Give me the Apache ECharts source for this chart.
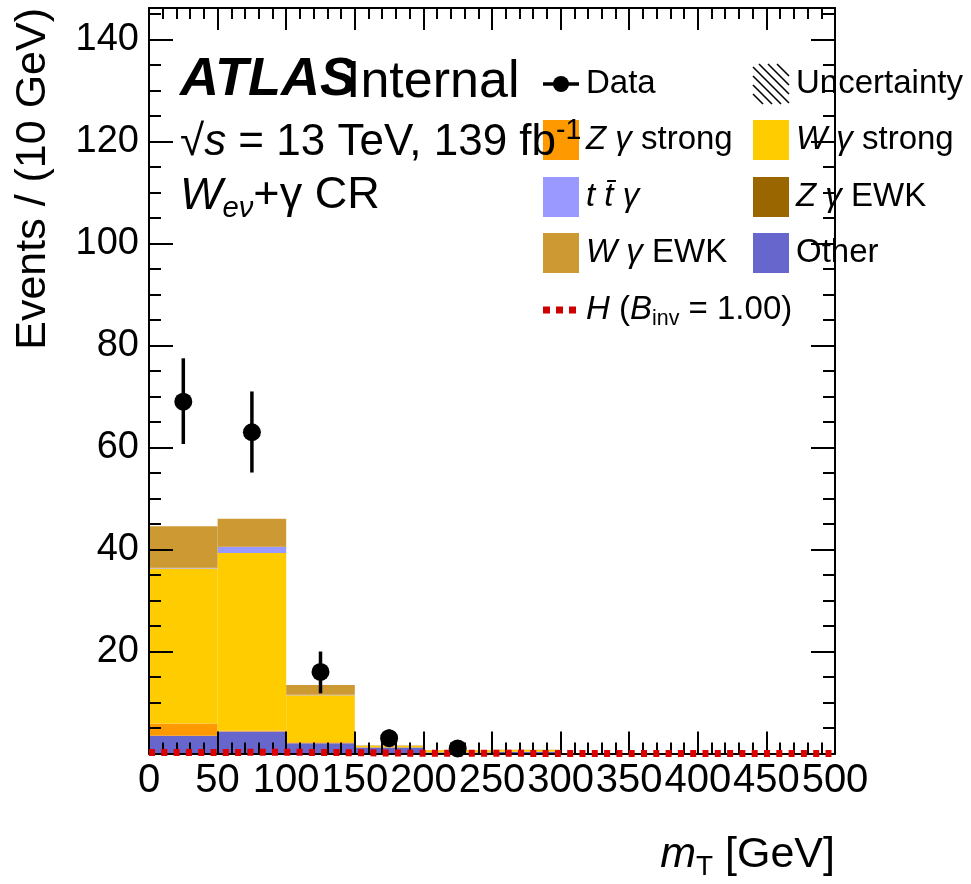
<!DOCTYPE html>
<html>
<head>
<meta charset="utf-8">
<script src="https://cdn.jsdelivr.net/npm/echarts@6/dist/echarts.min.js"></script>
<style>
  html, body { margin: 0; padding: 0; background: #fff; }
  #chart { width: 971px; height: 884px; }
</style>
</head>
<body>
<div id="chart"></div>
<script>
// m_T bins (50 GeV wide), 0 - 500 GeV
const bins = ['0-50', '50-100', '100-150', '150-200', '200-250', '250-300', '300-350', '350-400', '400-450', '450-500'];
const binEdges = [0, 50, 100, 150, 200, 250, 300, 350, 400, 450, 500];

// stacked backgrounds, bottom to top
const other    = [3.5, 4.3, 2.0, 1.2, 0.2, 0.3, 0, 0, 0, 0];
const zgStrong = [2.4, 0.2, 0.2, 0.05, 0.05, 0.1, 0, 0, 0, 0];
const wgStrong = [30.4, 34.8, 9.2, 0.2, 0.4, 0.3, 0, 0, 0, 0];
const ttg      = [0.1, 1.2, 0.1, 0, 0, 0, 0, 0, 0, 0];
const zgEwk    = [0.05, 0.05, 0.02, 0, 0, 0, 0, 0, 0, 0];
const wgEwk    = [8.1, 5.5, 1.9, 0.1, 0.05, 0.05, 0, 0, 0, 0];

// H (B_inv = 1.00) signal, per bin
const higgs = [0.2, 0.25, 0.15, 0.05, 0.03, 0.02, 0.01, 0.01, 0, 0];

// data points (bin centre, events, error down, error up)
const dataX  = [25, 75, 125, 175, 225];
const dataY  = [69, 63, 16, 3, 1];
const dataLo = [8.3, 7.9, 4.2, 1.7, 1.0];
const dataHi = [8.5, 8.0, 4.0, 1.7, 1.0];

const yTicks = [20, 40, 60, 80, 100, 120, 140];

const FONT = '"Liberation Sans", Arial, Helvetica, sans-serif';

function richSet(size) {
  return {
    n:   { fontSize: size, fontFamily: FONT, lineHeight: size * 1.2, verticalAlign: 'middle', fill: '#000' },
    i:   { fontSize: size, fontFamily: FONT, fontStyle: 'italic', lineHeight: size * 1.2, verticalAlign: 'middle', fill: '#000' },
    b:   { fontSize: size, fontFamily: FONT, fontStyle: 'italic', fontWeight: 'bold', lineHeight: size * 1.2, verticalAlign: 'middle', fill: '#000' },
    sub: { fontSize: size * 0.65, fontFamily: FONT, lineHeight: size * 0.6, verticalAlign: 'bottom', fill: '#000' },
    isub:{ fontSize: size * 0.65, fontFamily: FONT, fontStyle: 'italic', lineHeight: size * 0.55, verticalAlign: 'bottom', fill: '#000' },
    sup: { fontSize: size * 0.65, fontFamily: FONT, lineHeight: size * 0.62, verticalAlign: 'top', fill: '#000' }
  };
}

function txt(x, y, text, size, extra) {
  return Object.assign({
    type: 'text', x: x, y: y, z: 50,
    style: { text: text, rich: richSet(size), align: 'left', verticalAlign: 'middle' }
  }, extra || {});
}

// legend layout
const legendRows = [84, 140, 197, 253, 310];
const col1Box = 543, col2Box = 753, boxW = 36, boxH = 40;
const legendItems = [
  { col: 0, row: 1, color: '#ff9900', text: '{i|Z γ}{n| strong}' },
  { col: 1, row: 1, color: '#ffcc00', text: '{i|W γ}{n| strong}' },
  { col: 0, row: 2, color: '#9999ff', text: '{i|t t\u0304 γ}' },
  { col: 1, row: 2, color: '#996600', text: '{i|Z γ}{n| EWK}' },
  { col: 0, row: 3, color: '#cc9933', text: '{i|W γ}{n| EWK}' },
  { col: 1, row: 3, color: '#6666cc', text: '{n|Other}' }
];

const graphics = [];
legendItems.forEach(function (it) {
  const bx = it.col ? col2Box : col1Box;
  const cy = legendRows[it.row];
  graphics.push({ type: 'rect', z: 40, shape: { x: bx, y: cy - boxH / 2, width: boxW, height: boxH }, style: { fill: it.color } });
  graphics.push(txt(bx + 43, cy, it.text, 33));
});

// Data legend entry
graphics.push({ type: 'line', z: 40, shape: { x1: col1Box, y1: legendRows[0], x2: col1Box + boxW, y2: legendRows[0] }, style: { stroke: '#000', lineWidth: 3.5 } });
graphics.push({ type: 'circle', z: 40, shape: { cx: col1Box + boxW / 2, cy: legendRows[0], r: 8 }, style: { fill: '#000' } });
graphics.push(txt(col1Box + 43, legendRows[0], '{n|Data}', 33));

// Uncertainty legend entry (hatched box)
(function () {
  const x0 = col2Box, y0 = legendRows[0] - boxH / 2;
  for (let c = -30; c <= 30; c += 9) {
    // line: x - x0 = (y - y0) + c
    const yA = Math.max(y0, y0 - c), yB = Math.min(y0 + boxH, y0 + boxW - c);
    if (yB - yA < 3) continue;
    graphics.push({ type: 'line', z: 40, shape: { x1: x0 + (yA - y0) + c, y1: yA, x2: x0 + (yB - y0) + c, y2: yB }, style: { stroke: '#000', lineWidth: 1.6 } });
  }
})();
graphics.push(txt(col2Box + 43, legendRows[0], '{n|Uncertainty}', 33));

// H legend entry
graphics.push({ type: 'line', z: 40, shape: { x1: col1Box, y1: legendRows[4], x2: col1Box + boxW, y2: legendRows[4] }, style: { stroke: '#cc0000', lineWidth: 7, lineDash: [7, 6] } });
graphics.push(txt(col1Box + 43, legendRows[4], '{i|H}{n| (}{i|B}{sub|inv}{n| = 1.00)}', 33));

// ATLAS labels
graphics.push(txt(180, 80, '{b|ATLAS}', 54));
graphics.push(txt(346, 83, '{n|Internal}', 52));
graphics.push(txt(180, 143, '{n|√}{i|s}{n| = 13 TeV, 139 fb}{sup|-1}', 44));
graphics.push(txt(180, 196, '{i|W}{isub|eν}{n|+γ CR}', 45));

// axis titles
graphics.push({ type: 'text', x: 33, y: 8, rotation: Math.PI / 2, z: 50,
  style: { text: 'Events / (10 GeV)', font: '43px ' + FONT, fill: '#000', align: 'right', verticalAlign: 'middle' } });
graphics.push({ type: 'text', x: 835, y: 855, z: 50,
  style: { text: '{i|m}{sub|T}{n| [GeV]}', rich: richSet(43), align: 'right', verticalAlign: 'middle' } });

const yMax = 146.2;
const lineBlack = { color: '#000', width: 2 };

function yAxis(pos, interval, tickLen, labels, line) {
  return {
    type: 'value', position: pos, min: 0, max: yMax, interval: interval, z: 10,
    axisLine: { show: line, onZero: false, lineStyle: lineBlack },
    axisTick: { show: true, inside: true, length: tickLen, lineStyle: lineBlack },
    axisLabel: labels ? {
      show: true, fontSize: 38, fontFamily: FONT, color: '#000', margin: 10,
      formatter: function (v) { return yTicks.indexOf(v) >= 0 ? String(v) : ''; }
    } : { show: false },
    splitLine: { show: false }
  };
}

function xAxis(pos, labels) {
  return {
    type: 'value', position: pos, min: 0, max: 500, interval: 50, z: 10,
    axisLine: { show: true, onZero: false, lineStyle: lineBlack },
    axisTick: { show: true, inside: true, length: 22, lineStyle: lineBlack },
    minorTick: { show: true, splitNumber: 5, length: 11, lineStyle: lineBlack },
    axisLabel: labels ? { show: true, fontSize: 40, fontFamily: FONT, color: '#000', margin: 7 } : { show: false },
    splitLine: { show: false }
  };
}

const stackDefs = [
  ['Other', other, '#6666cc'],
  ['Zγ strong', zgStrong, '#ff9900'],
  ['Wγ strong', wgStrong, '#ffcc00'],
  ['ttγ', ttg, '#9999ff'],
  ['Zγ EWK', zgEwk, '#996600'],
  ['Wγ EWK', wgEwk, '#cc9933']
];

const series = stackDefs.map(function (d) {
  return {
    name: d[0], type: 'bar', stack: 'bkg', xAxisIndex: 0, yAxisIndex: 0,
    data: d[1], barWidth: '100%', barCategoryGap: '0%',
    itemStyle: { color: d[2] }, z: 2, animation: false
  };
});

// H signal as step histogram
const hStep = binEdges.map(function (e, i) { return [e, higgs[Math.min(i, higgs.length - 1)]]; });
series.push({
  name: 'H', type: 'line', step: 'end', xAxisIndex: 1, yAxisIndex: 0,
  data: hStep, showSymbol: false, clip: false, z: 20, zlevel: 0,
  lineStyle: { color: '#dd0000', width: 7, type: [6, 6.3], cap: 'butt' }, animation: false
});

// data with error bars
series.push({
  name: 'Data', type: 'custom', xAxisIndex: 1, yAxisIndex: 0, z: 30, animation: false,
  data: dataX.map(function (x, i) { return [x, dataY[i], dataLo[i], dataHi[i]]; }),
  renderItem: function (params, api) {
    const x = api.value(0), y = api.value(1);
    const c = api.coord([x, y]);
    const lo = api.coord([x, y - api.value(2)]);
    const hi = api.coord([x, y + api.value(3)]);
    return {
      type: 'group',
      children: [
        { type: 'line', shape: { x1: c[0], y1: lo[1], x2: c[0], y2: hi[1] }, style: { stroke: '#000', lineWidth: 3.5 } },
        { type: 'circle', shape: { cx: c[0], cy: c[1], r: 9 }, style: { fill: '#000' } }
      ]
    };
  }
});

const chart = echarts.init(document.getElementById('chart'), null, { renderer: 'canvas' });
chart.setOption({
  backgroundColor: '#fff',
  animation: false,
  grid: { left: 149, top: 8, width: 686, height: 745.5, containLabel: false },
  xAxis: [
    { type: 'category', data: bins, show: false, boundaryGap: true },
    xAxis('bottom', true),
    xAxis('top', false)
  ],
  yAxis: [
    yAxis('left', 20, 24, true, true),
    yAxis('left', 5, 12, false, false),
    yAxis('right', 20, 24, false, true),
    yAxis('right', 5, 12, false, false)
  ],
  series: series,
  graphic: graphics
});
</script>
</body>
</html>
